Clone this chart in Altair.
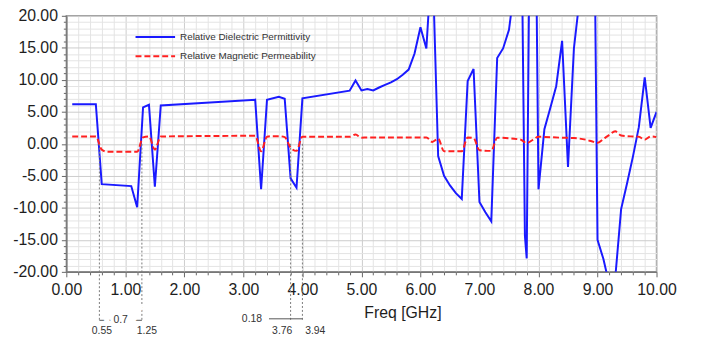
import altair as alt
import pandas as pd

# ---- data ----
eps_freq = [0.1, 0.5, 0.6, 1.1, 1.2, 1.3, 1.4, 1.5, 1.6, 3.2, 3.3, 3.4, 3.6, 3.7, 3.8,
            3.9, 4.0, 4.8, 4.9, 5.0, 5.1, 5.2, 5.3, 5.4, 5.5, 5.6, 5.7, 5.8, 5.9, 6.0,
            6.1, 6.2, 6.3, 6.4, 6.5, 6.6, 6.7, 6.8, 6.9, 7.0, 7.1, 7.2, 7.3, 7.4, 7.5,
            7.6, 7.7, 7.77, 7.8, 7.9, 8.0, 8.1, 8.2, 8.3, 8.4, 8.5, 8.6, 8.7, 8.8, 8.9,
            8.97, 9.0, 9.1, 9.2, 9.3, 9.4, 9.5, 9.6, 9.7, 9.8, 9.9, 10.0]
eps_vals = [6.2, 6.2, -6.3, -6.6, -9.9, 5.7, 6.1, -6.7, 6.0, 6.9, -7.1, 6.9, 7.35, 7.05, -5.4,
            -6.85, 7.1, 8.3, 9.9, 8.35, 8.55, 8.35, 8.8, 9.2, 9.6, 10.1, 10.8, 11.6, 14.1, 18.2,
            14.9, 30, -1.9, -5.0, -6.5, -7.7, -8.6, 9.8, 11.7, -9.1, -10.7, -12.1, 13.4, 14.9, 17.8,
            25, 45, -14.4, -17.9, 85, -7.1, 2.3, 5.6, 9.0, 16.1, -3.6, 14.9, 23, 35, 80,
            12.9, -15, -18, -22, -21, -10.2, -6.2, -2.0, 2.6, 10.4, 2.5, 5.0]

mu_freq = [0.1, 0.5, 0.6, 0.7, 1.2, 1.3, 1.4, 1.5, 1.6, 3.2, 3.3, 3.4, 3.5, 3.6, 3.7,
           3.8, 3.9, 4.0, 4.8, 4.9, 5.0, 5.1, 6.1, 6.2, 6.3, 6.4, 6.7, 6.8, 6.9, 7.0,
           7.2, 7.3, 7.7, 7.8, 7.9, 8.0, 8.4, 8.6, 8.8, 8.9, 9.0, 9.1, 9.2, 9.3, 9.4,
           9.5, 9.6, 9.7, 9.8, 9.9, 10.0]
mu_vals = [1.15, 1.15, -0.9, -1.25, -1.25, 1.0, 1.15, -0.9, 1.15, 1.25, -1.15, 1.1, 1.2, 1.2, 1.05,
           -0.6, -1.1, 1.1, 1.1, 1.45, 0.95, 1.0, 1.0, 0.3, 0.8, -1.15, -1.15, 1.0, 0.9, -1.0,
           -1.1, 0.95, 0.65, 0.1, 0.6, 1.1, 0.95, 0.9, 0.65, 0.4, 0.15, 0.75, 1.4, 1.95, 1.3,
           1.2, 1.15, 1.1, 0.65, 1.15, 1.05]

series_names = ["Relative Dielectric Permittivity", "Relative Magnetic Permeability"]
marker_freq = [0.56, 1.28, 3.80, 4.00]
marker_labels = ["0.55", "1.25", "3.76", "3.94"]
delta_labels = ["0.7", "0.18"]

x_ticks = [round(0.2 * k, 1) for k in range(51)]
y_ticks = list(range(-20, 21))

# ---- styling ----
BLUE = "#1a1aff"
RED = "#ff2020"
FONT = "Arial"
W, H = 597, 259

eps_df = pd.DataFrame({"f": eps_freq, "v": eps_vals})
mu_df = pd.DataFrame({"f": mu_freq, "v": mu_vals})
mk_df = pd.DataFrame({"f": marker_freq, "label": marker_labels, "zero": [0] * len(marker_freq)})

xscale = alt.Scale(domain=[0, 10], nice=False, zero=False)
yscale = alt.Scale(domain=[-20, 20], nice=False, zero=False)

x_major = "abs(datum.value - round(datum.value)) < 0.001"
y_major = "datum.value % 5 === 0"

x_axis = alt.Axis(
    values=x_ticks,
    labelExpr=f"{x_major} ? format(datum.value, '.2f') : ''",
    grid=True,
    gridColor={"condition": {"test": x_major, "value": "#cccccc"}, "value": "#e4e4e4"},
    tickSize={"condition": {"test": x_major, "value": 5}, "value": 3},
    tickColor="#666", domainColor="#777", domainWidth=1.5,
    labelFont=FONT, labelFontSize=16, labelColor="#1e1e1e", labelPadding=5,
    labelFlush=False, labelOverlap=False, labelBound=False,
    title="Freq [GHz]", titleFont=FONT, titleFontSize=16, titleFontWeight="normal",
    titleColor="#1e1e1e", titleX=340, titleY=46, titleAlign="center",
    titleBaseline="alphabetic",
)
y_axis = alt.Axis(
    values=y_ticks,
    labelExpr=f"{y_major} ? (datum.value < 0 ? '-' + format(-datum.value, '.2f') : format(datum.value, '.2f')) : ''",
    grid=True,
    gridColor={"condition": {"test": y_major, "value": "#cccccc"}, "value": "#e4e4e4"},
    tickSize={"condition": {"test": y_major, "value": 5}, "value": 3},
    tickColor="#666", domainColor="#777", domainWidth=1.5,
    labelFont=FONT, labelFontSize=16, labelColor="#1e1e1e", labelPadding=4,
    labelFlush=False, labelOverlap=False, labelBound=False, title=None,
)

XN = lambda fld: alt.X(fld, axis=None)
YN = lambda fld: alt.Y(fld, axis=None)

blue = alt.Chart(eps_df).mark_line(color=BLUE, strokeWidth=2, clip=True).encode(
    x=alt.X("f:Q", scale=xscale, axis=x_axis),
    y=alt.Y("v:Q", scale=yscale, axis=y_axis),
)
red = alt.Chart(mu_df).mark_line(
    color=RED, strokeWidth=2, strokeDash=[6, 3], clip=True, interpolate="monotone"
).encode(x=XN("f:Q"), y=YN("v:Q"))

layers = [blue, red]

# legend (inside plot, top-left)
leg_y = [21.5, 41]
for name, col, dash, yy in zip(series_names, [BLUE, RED], [[1, 0], [6, 3]], leg_y):
    ldf = pd.DataFrame({"name": [name]})
    layers.append(alt.Chart(ldf).mark_rule(color=col, strokeWidth=2, strokeDash=dash).encode(
        x=alt.value(70), x2=alt.value(110), y=alt.value(yy)))
    layers.append(alt.Chart(ldf).mark_text(
        align="left", baseline="middle", font=FONT, fontSize=10, color="#333").encode(
        x=alt.value(115), y=alt.value(yy), text="name:N"))

# marker dotted lines from 0 down below the axis
layers.append(alt.Chart(mk_df).mark_rule(color="#7a7a7a", strokeDash=[2, 2], strokeWidth=1).encode(
    x=XN("f:Q"), y=YN("zero:Q"), y2=alt.value(309)))

# dimension line 1 (0.55 - 1.25) with label in the middle
d1 = pd.DataFrame({"a": [marker_freq[0]], "b": [marker_freq[1]],
                   "m": [(marker_freq[0] + marker_freq[1]) / 2], "t": [delta_labels[0]]})
layers.append(alt.Chart(d1).mark_rule(color="#555", strokeWidth=1).encode(
    x=XN("a:Q"), x2="b:Q", y=alt.value(308)))
layers.append(alt.Chart(d1).mark_text(
    font=FONT, fontSize=10.5, baseline="middle", stroke="white", strokeWidth=20, color="white").encode(
    x=XN("m:Q"), y=alt.value(308), text="t:N"))
layers.append(alt.Chart(d1).mark_text(
    font=FONT, fontSize=10.5, baseline="middle", color="#333").encode(
    x=XN("m:Q"), y=alt.value(308), text="t:N"))

# dimension line 2 (3.76 - 3.94) with label outside on the left
d2 = pd.DataFrame({"b": [marker_freq[3]], "t": [delta_labels[1]]})
layers.append(alt.Chart(d2).mark_rule(color="#555", strokeWidth=1).encode(
    x=XN("b:Q"), x2=alt.value(205), y=alt.value(306.5)))
layers.append(alt.Chart(d2).mark_text(
    font=FONT, fontSize=10.5, baseline="middle", align="right", color="#333").encode(
    x=alt.value(198), y=alt.value(306.5), text="t:N"))

# marker value labels
label_dx = [2.5, 5, -8.5, 13]
for i, dx in enumerate(label_dx):
    sub = mk_df.iloc[[i]]
    layers.append(alt.Chart(sub).mark_text(
        font=FONT, fontSize=10.5, baseline="middle", color="#333", dx=dx).encode(
        x=XN("f:Q"), y=alt.value(318.5), text="label:N"))

chart = alt.layer(*layers).resolve_axis(x="independent", y="independent").properties(
    width=W, height=H,
    padding={"left": 59, "top": 6, "right": 47, "bottom": 65},
    autosize=alt.AutoSizeParams(type="none"),
).configure_view(stroke="#9a9a9a", strokeWidth=1.5).configure_axis(
    labelOverlap=False, labelFlush=False, labelBound=False
)

chart.save("out.html", embed_options={"renderer": "svg", "actions": False})
